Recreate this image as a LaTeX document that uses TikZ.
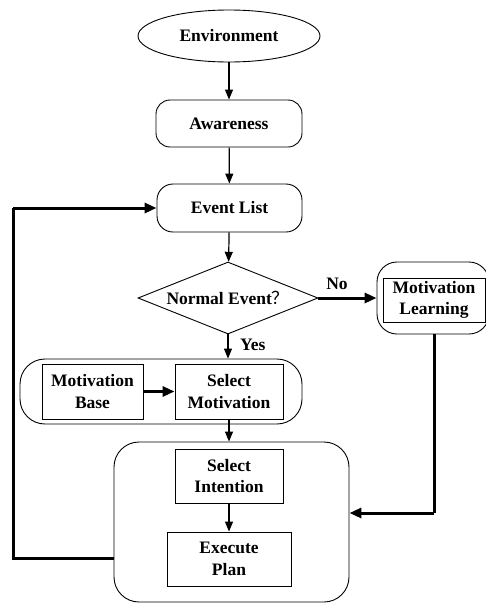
\documentclass[tikz,border=0pt]{standalone}
\usepackage{fontspec}
\setmainfont{Liberation Serif}
\newfontfamily\cjk{Noto Sans CJK SC}
\usetikzlibrary{shapes.geometric,arrows.meta}
\begin{document}
\begin{tikzpicture}[x=1pt,y=-1pt,
  every node/.style={font=\bfseries\fontsize{17.5}{21.5}\selectfont, align=center, inner sep=0pt},
  thinline/.style={draw, line width=0.9pt},
  boxr/.style={thinline, rectangle},
  roundbox/.style={thinline, rectangle, rounded corners=14pt},
  arr/.style={line width=1.2pt, -{Triangle[length=10pt,width=8pt]}},
  thickarr/.style={line width=3pt, -{Triangle[length=12pt,width=10pt]}},
  thickline/.style={line width=3pt}]
\useasboundingbox (0,0) rectangle (486,603);
% nodes
\node[thinline, ellipse, minimum width=182pt, minimum height=52pt] (env) at (229,36) {Environment};
\node[roundbox, minimum width=146pt, minimum height=47pt] (aw) at (229,123.5) {Awareness};
\node[roundbox, rounded corners=16pt, minimum width=145pt, minimum height=48pt] (ev) at (229.5,208) {Event List};
\node[thinline, diamond, aspect=2.5, minimum width=180pt, minimum height=72pt] (dia) at (228,298) {Normal Event{\cjk\mdseries ？}};
\node[thinline, rectangle, rounded corners=20pt, minimum width=112pt, minimum height=72pt] (mlo) at (433,298) {};
\node[boxr, minimum width=102pt, minimum height=44pt] (ml) at (434,300) {Motivation\\Learning};
\node[thinline, rectangle, rounded corners=25pt, minimum width=282pt, minimum height=65pt] (c1) at (161,391.5) {};
\node[boxr, minimum width=101pt, minimum height=55pt] (mb) at (92.5,391.5) {Motivation\\Base};
\node[boxr, minimum width=108pt, minimum height=55pt] (sm) at (229,391.5) {Select\\Motivation};
\node[thinline, rectangle, rounded corners=25pt, minimum width=235pt, minimum height=160pt] (c2) at (231.5,522) {};
\node[boxr, minimum width=108pt, minimum height=54pt] (si) at (229,476) {Select\\Intention};
\node[boxr, minimum width=124pt, minimum height=54pt] (ep) at (229,559) {Execute\\Plan};
\node (no) at (337,284) {No};
\node[anchor=west] (yes) at (240,345) {Yes};
\coordinate (lx) at (13,558);
\coordinate (rx) at (434,513);
% connectors
\draw[arr] (env) -- (aw);
\draw[arr] (aw) -- (ev);
\draw[arr] (ev) -- (dia);
\draw[arr] (dia.south) -- (dia.south |- c1.north);
\draw[thickarr] (dia.east) -- (mlo.west);
\draw[thickarr] (mb) -- (sm);
\draw[arr] (sm.south) -- (sm.south |- c2.north);
\draw[arr] (si) -- (ep);
\draw[thickline] (ml.center |- mlo.south) -- (rx);
\draw[thickarr] (rx) -- (c2.east |- rx);
\draw[thickline] (c2.west |- lx) -- (lx) -- (lx |- ev);
\draw[thickarr] (lx |- ev) -- (ev.west);
\end{tikzpicture}
\end{document}
